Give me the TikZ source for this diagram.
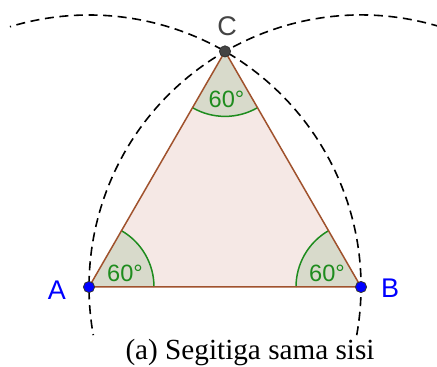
\documentclass[tikz,border=0pt]{standalone}
\usepackage{fontspec}
\setmainfont{Liberation Serif}
\newfontfamily\labelfont{Liberation Sans}
\usetikzlibrary{angles}
\definecolor{sisi}{HTML}{A0522D}
\definecolor{isi}{HTML}{F5E8E5}
\definecolor{sudut}{HTML}{D8DACB}
\definecolor{hijau}{HTML}{1E8C1E}
\definecolor{abu}{HTML}{444444}

\begin{document}
\begin{tikzpicture}[
x=0.5pt, y=0.5pt,
titik/.style={
circle,
draw=black!80,
line width=0.4pt,
inner sep=0pt,
minimum size=5.6pt
},
nama/.style={
font=\labelfont\fontsize{13.5}{15}\selectfont
},
besar/.style={
font=\labelfont\fontsize{11.8}{13}\selectfont,
text=hijau
},
busur/.style={
draw=hijau,
fill=sudut,
line width=0.75pt,
angle radius=32.5pt
},
lingkaran/.style={
dashed,
dash pattern=on 4.5pt off 2.8pt,
line width=0.8pt
}
]

\useasboundingbox (0,0) rectangle (437,367);

\coordinate (A) at (89,80);
\coordinate (B) at (361,80);
\coordinate (C) at (225,315.6);

\fill[isi] (A) -- (B) -- (C) -- cycle;

\pic[busur] {angle=B--A--C};
\pic[busur] {angle=C--B--A};
\pic[busur] {angle=A--C--B};

\draw[lingkaran] (A) ++(-10.2:136pt) arc (-10.2:106.9:136pt);
\draw[lingkaran] (B) ++(73.1:136pt) arc (73.1:190.2:136pt);

\draw[sisi, line width=0.75pt] (A) -- (B) -- (C) -- cycle;

\node[titik, fill=blue] (tA) at (A) {};
\node[titik, fill=blue] (tB) at (B) {};
\node[titik, fill=abu] (tC) at (C) {};

\node[nama, text=blue] (lA) at (57,77) {A};
\node[nama, text=blue] (lB) at (390,79) {B};
\node[nama, text=abu] (lC) at (227,341) {C};

\node[besar] (sA) at (125,94) {60°};
\node[besar] (sB) at (327,94) {60°};
\node[besar] (sC) at (226.5,268) {60°};

\node[anchor=base, font=\fontsize{14.6}{17}\selectfont] (judul) at (250,7)
{(a) Segitiga sama sisi};

\end{tikzpicture}
\end{document}
